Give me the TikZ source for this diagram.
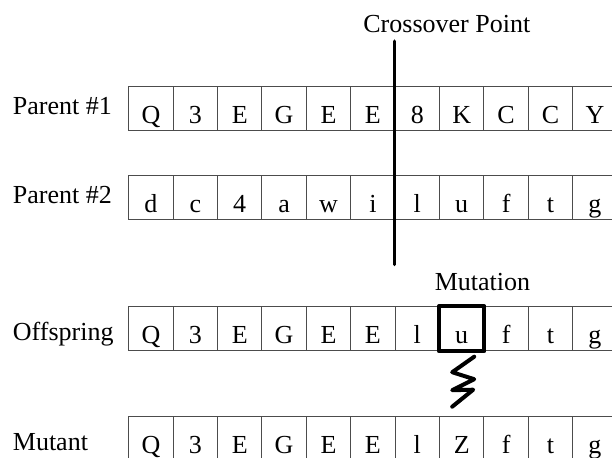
\documentclass[tikz,border=0pt]{standalone}
\usepackage{fontspec}
\setmainfont{Liberation Serif}
\usetikzlibrary{calc}

\tikzset{
  cell/.style={draw=black!70, line width=1pt, minimum width=44.4pt,
    minimum height=44pt, inner sep=0pt, text height=30pt, text depth=0pt,
    font=\fontsize{26}{30}\selectfont},
  rowlabel/.style={anchor=base west, inner sep=0pt,
    font=\fontsize{26}{30}\selectfont},
  caption/.style={anchor=base, inner sep=0pt,
    font=\fontsize{26}{30}\selectfont},
  cutline/.style={line width=3.5pt, line cap=round},
  mutbox/.style={line width=4pt, line join=round},
  zigzag/.style={line width=4pt, line cap=round, line join=round},
}

% one row of genes: #1 name prefix, #2 top edge (px), #3 list of symbols
\newcommand{\generow}[3]{%
  \foreach \g [count=\i from 0] in {#3} {
    \node[cell] (#1\i) at ({128.7+44.4*\i+22.2}, {#2+22}) {\g};
  }%
}

\begin{document}
\begin{tikzpicture}[x=1pt, y=-1pt]
  \useasboundingbox (0,0) rectangle (612,457);
  \clip (0,0) rectangle (612,457);

  % chromosomes
  \generow{a}{86.7}{Q,3,E,G,E,E,8,K,C,C,Y}
  \generow{b}{175}{d,c,4,a,w,i,l,u,f,t,g}
  \generow{o}{306.7}{Q,3,E,G,E,E,l,u,f,t,g}
  \generow{m}{416.7}{Q,3,E,G,E,E,l,Z,f,t,g}

  % row labels
  \node[rowlabel] (la) at (12.7,115)   {Parent \#1};
  \node[rowlabel] (lb) at (12.7,203.3) {Parent \#2};
  \node[rowlabel] (lo) at (12.7,340.7) {Offspring};
  \node[rowlabel] (lm) at (12.7,450)   {Mutant};

  % crossover point
  \node[caption] (xlabel) at (446.8,32.5) {Crossover Point};
  \coordinate (xtop) at ($(a6.north west)+(0,-45)$);
  \coordinate (xbot) at ($(b6.south west)+(0,45)$);
  \draw[cutline] (xtop) -- (xbot);

  % mutation
  \node[caption] (mlabel) at (482.5,290.5) {Mutation};
  \draw[mutbox] (o7.north west) rectangle (o7.south east);
  \draw[zigzag] ($(o7.south)+(12.5,5.5)$) -- ++(-22,15.5) -- ++(22,7)
    -- ++(-22,11) -- ++(21,-0.5) -- ++(-21,17);
\end{tikzpicture}
\end{document}
